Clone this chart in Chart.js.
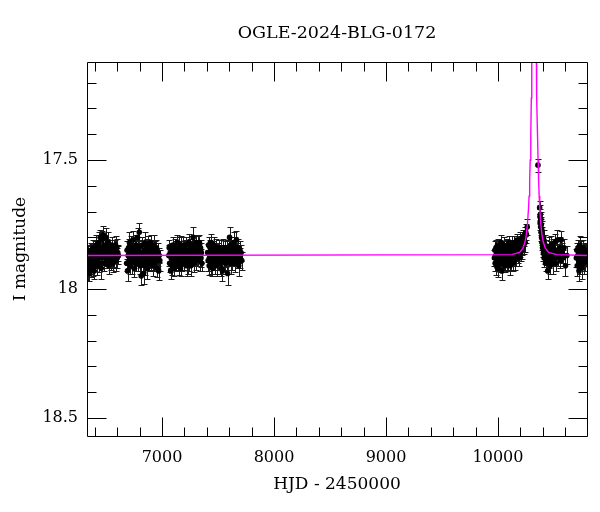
<!DOCTYPE html>
<html><head><meta charset="utf-8">
<script src="https://cdn.jsdelivr.net/npm/chart.js@4/dist/chart.umd.min.js"></script>
<style>html,body{margin:0;padding:0;background:#fff}</style>
</head><body>
<canvas id="c" width="600" height="512"></canvas>
<script>
const chartTitle = 'OGLE-2024-BLG-0172';
const xTitle = 'HJD - 2450000';
const yTitle = 'I magnitude';

const xRange = [6330, 10795];
const yRange = [17.12, 18.57];
const xMajorTicks = [7000, 8000, 9000, 10000];
const xMinorTicks = [6400, 6600, 6800, 7200, 7400, 7600, 7800, 8200, 8400, 8600, 8800, 9200, 9400, 9600, 9800, 10200, 10400, 10600];
const yMajorTicks = [17.5, 18, 18.5];
const yMinorTicks = [17.2, 17.3, 17.4, 17.6, 17.7, 17.8, 17.9, 18.1, 18.2, 18.3, 18.4];

// season 1
const s1Hjd = [6333,6336,6341,6344,6349,6352,6357,6361,6364,6369, 6372,6377,6381,6384,6389,6393,6396,6401,6404,6409, 6413,6416,6421,6425,6428,6433,6436,6441,6445,6448, 6453,6457,6460,6465,6468,6473,6477,6480,6485,6489, 6492,6497,6500,6505,6509,6512,6517,6521,6524,6529, 6532,6537,6541,6544,6549,6553,6556,6561,6564,6569, 6573,6576,6581,6585,6588,6593,6597,6600,6605,6611];
const s1Mag = [17.89,17.93,17.86,17.91,17.88,17.94,17.87,17.90,17.85,17.92, 17.88,17.86,17.91,17.84,17.89,17.93,17.87,17.85,17.90,17.88, 17.83,17.87,17.91,17.85,17.89,17.82,17.86,17.90,17.84,17.80, 17.87,17.92,17.85,17.81,17.88,17.84,17.79,17.86,17.90,17.83, 17.87,17.80,17.85,17.89,17.84,17.88,17.82,17.86,17.91,17.85, 17.87,17.84,17.89,17.86,17.83,17.88,17.85,17.90,17.86,17.84, 17.88,17.85,17.87,17.83,17.89,17.86,17.84,17.88,17.86,17.87];
const s1Err = [0.035,0.04,0.03,0.035,0.04,0.03,0.035,0.04,0.03,0.035, 0.03,0.035,0.04,0.03,0.035,0.03,0.04,0.035,0.03,0.04, 0.04,0.03,0.035,0.035,0.03,0.04,0.03,0.035,0.04,0.03, 0.035,0.04,0.03,0.035,0.04,0.03,0.035,0.04,0.03,0.035, 0.03,0.035,0.04,0.03,0.035,0.03,0.04,0.035,0.03,0.04, 0.04,0.03,0.035,0.035,0.03,0.04,0.03,0.035,0.04,0.03, 0.035,0.04,0.03,0.035,0.04,0.03,0.035,0.04,0.03,0.035];
// season 2
const s2Hjd = [6684,6688,6692,6697,6701,6705,6709,6713,6718,6722, 6726,6730,6734,6739,6743,6747,6751,6755,6760,6764, 6768,6772,6776,6781,6785,6789,6793,6797,6802,6806, 6810,6814,6818,6823,6827,6831,6835,6839,6844,6848, 6852,6856,6860,6865,6869,6873,6877,6881,6886,6890, 6894,6898,6902,6907,6911,6915,6919,6923,6928,6932, 6936,6940,6945,6950,6955,6960,6965,6970,6975,6980];
const s2Mag = [17.90,17.85,17.93,17.87,17.84,17.89,17.82,17.88,17.91,17.86, 17.83,17.90,17.87,17.81,17.85,17.89,17.92,17.84,17.88,17.86, 17.83,17.90,17.87,17.80,17.85,17.89,17.84,17.78,17.86,17.91, 17.88,17.95,17.86,17.83,17.90,17.87,17.94,17.85,17.88,17.82, 17.91,17.86,17.89,17.84,17.92,17.87,17.83,17.88,17.90,17.85, 17.86,17.82,17.89,17.87,17.84,17.91,17.86,17.88,17.83,17.90, 17.87,17.85,17.89,17.84,17.92,17.88,17.86,17.93,17.87,17.89];
const s2Err = [0.03,0.035,0.04,0.03,0.035,0.03,0.04,0.035,0.03,0.04, 0.035,0.04,0.03,0.035,0.04,0.03,0.035,0.04,0.03,0.035, 0.04,0.03,0.035,0.035,0.03,0.04,0.03,0.035,0.04,0.03, 0.03,0.035,0.04,0.03,0.035,0.03,0.04,0.035,0.03,0.04, 0.035,0.04,0.03,0.035,0.04,0.03,0.035,0.04,0.03,0.035, 0.04,0.03,0.035,0.035,0.03,0.04,0.03,0.035,0.04,0.03, 0.03,0.035,0.04,0.03,0.035,0.03,0.04,0.035,0.03,0.04];
// season 3
const s3Hjd = [7060,7064,7068,7073,7077,7081,7085,7089,7094,7098, 7102,7106,7110,7115,7119,7123,7127,7131,7136,7140, 7144,7148,7152,7157,7161,7165,7169,7173,7178,7182, 7186,7190,7194,7199,7203,7207,7211,7215,7220,7224, 7228,7232,7236,7241,7245,7249,7253,7257,7262,7266, 7270,7274,7278,7283,7287,7291,7295,7299,7304,7309, 7314,7319,7324,7329,7334,7339,7344,7348,7352,7356];
const s3Mag = [17.87,17.84,17.90,17.86,17.93,17.88,17.85,17.91,17.87,17.83, 17.89,17.86,17.92,17.84,17.88,17.90,17.85,17.87,17.82,17.89, 17.86,17.91,17.84,17.88,17.85,17.92,17.87,17.83,17.90,17.86, 17.84,17.88,17.85,17.89,17.84,17.87,17.83,17.86,17.91,17.88, 17.85,17.90,17.86,17.82,17.89,17.87,17.84,17.91,17.86,17.83, 17.88,17.85,17.80,17.87,17.90,17.84,17.86,17.89,17.82,17.87, 17.85,17.88,17.83,17.86,17.82,17.89,17.84,17.88,17.86,17.90];
const s3Err = [0.04,0.03,0.035,0.035,0.03,0.04,0.03,0.035,0.04,0.03, 0.035,0.04,0.03,0.035,0.04,0.03,0.035,0.04,0.03,0.035, 0.03,0.035,0.04,0.03,0.035,0.03,0.04,0.035,0.03,0.04, 0.04,0.03,0.035,0.035,0.03,0.04,0.03,0.035,0.04,0.03, 0.035,0.04,0.03,0.035,0.04,0.03,0.035,0.04,0.03,0.035, 0.03,0.035,0.04,0.03,0.035,0.03,0.04,0.035,0.03,0.04, 0.04,0.03,0.035,0.035,0.03,0.04,0.03,0.035,0.04,0.03];
// season 4
const s4Hjd = [7408,7412,7416,7421,7425,7429,7433,7438,7442,7446, 7450,7455,7459,7463,7467,7472,7476,7480,7484,7489, 7493,7497,7501,7506,7510,7514,7518,7523,7527,7531, 7535,7540,7544,7548,7552,7557,7561,7565,7569,7574, 7578,7582,7586,7591,7595,7599,7603,7608,7612,7616, 7620,7625,7629,7633,7637,7642,7646,7650,7655,7660, 7665,7670,7675,7680,7685,7690,7695,7700,7706,7712];
const s4Mag = [17.86,17.89,17.83,17.91,17.87,17.84,17.82,17.90,17.86,17.88, 17.92,17.85,17.87,17.83,17.89,17.86,17.90,17.84,17.88,17.91, 17.86,17.85,17.89,17.87,17.84,17.90,17.86,17.88,17.85,17.92, 17.87,17.93,17.86,17.84,17.89,17.87,17.85,17.90,17.86,17.88, 17.84,17.89,17.94,17.87,17.85,17.88,17.80,17.86,17.83,17.90, 17.87,17.84,17.89,17.85,17.88,17.82,17.86,17.90,17.84,17.87, 17.81,17.86,17.89,17.84,17.91,17.87,17.85,17.88,17.86,17.89];
const s4Err = [0.035,0.04,0.03,0.035,0.04,0.03,0.035,0.04,0.03,0.035, 0.03,0.035,0.04,0.03,0.035,0.03,0.04,0.035,0.03,0.04, 0.04,0.03,0.035,0.035,0.03,0.04,0.03,0.035,0.04,0.03, 0.035,0.04,0.03,0.035,0.04,0.03,0.035,0.04,0.03,0.035, 0.03,0.035,0.045,0.03,0.035,0.03,0.04,0.035,0.03,0.04, 0.04,0.03,0.035,0.035,0.03,0.04,0.03,0.035,0.04,0.03, 0.035,0.04,0.03,0.035,0.04,0.03,0.035,0.04,0.03,0.035];
// season 5 (before the peak)
const s5Hjd = [9968,9972,9975,9979,9982,9986,9989,9993,9996,10000, 10003,10007,10010,10014,10017,10021,10024,10028,10031,10035, 10038,10042,10045,10049,10052,10056,10059,10063,10066,10070, 10073,10077,10080,10084,10087,10091,10094,10098,10101,10105, 10108,10112,10115,10119,10122,10126,10129,10133,10136,10140, 10143,10147,10150,10154,10157,10161,10164,10168,10171,10175, 10178,10182,10185,10189,10192,10196,10199,10203,10207,10211, 10215,10219,10223,10228,10233,10238,10243,10248,10254,10261];
const s5Mag = [17.88,17.85,17.90,17.87,17.84,17.91,17.86,17.89,17.83,17.88, 17.92,17.86,17.84,17.90,17.87,17.85,17.89,17.82,17.88,17.93, 17.86,17.84,17.90,17.87,17.83,17.89,17.86,17.91,17.85,17.88, 17.84,17.87,17.90,17.83,17.86,17.89,17.85,17.88,17.82,17.87, 17.91,17.86,17.84,17.89,17.85,17.88,17.83,17.87,17.90,17.85, 17.86,17.82,17.89,17.84,17.87,17.85,17.88,17.81,17.86,17.84, 17.87,17.83,17.86,17.82,17.88,17.84,17.81,17.86,17.83,17.85, 17.82,17.84,17.80,17.83,17.81,17.79,17.82,17.78,17.79,17.76];
const s5Err = [0.03,0.035,0.03,0.025,0.03,0.035,0.03,0.03,0.025,0.035, 0.035,0.03,0.03,0.035,0.025,0.03,0.035,0.03,0.03,0.035, 0.03,0.025,0.035,0.03,0.03,0.035,0.03,0.025,0.03,0.035, 0.03,0.035,0.03,0.025,0.03,0.035,0.03,0.03,0.025,0.035, 0.035,0.03,0.03,0.035,0.025,0.03,0.035,0.03,0.03,0.035, 0.03,0.025,0.035,0.03,0.03,0.035,0.03,0.025,0.03,0.035, 0.03,0.035,0.03,0.025,0.03,0.035,0.03,0.03,0.025,0.035, 0.035,0.03,0.03,0.035,0.025,0.03,0.035,0.03,0.03,0.03];
// after the peak
const s6Hjd = [10357,10372,10375,10377,10379,10381,10383,10385,10387,10389, 10391,10393,10395,10398,10400,10403,10406,10409,10412,10415, 10418,10421,10425,10428,10432,10436,10440,10444,10448,10452, 10457,10461,10466,10470,10475,10480,10485,10490,10495,10500, 10506,10512,10518,10524,10530,10537,10544,10551,10558,10565, 10572,10580,10590,10603,10615];
const s6Mag = [17.52,17.685,17.72,17.74,17.71,17.76,17.73,17.78,17.75,17.80, 17.77,17.82,17.79,17.84,17.80,17.83,17.86,17.81,17.88,17.84, 17.87,17.83,17.90,17.86,17.84,17.89,17.86,17.93,17.87,17.84, 17.89,17.85,17.91,17.87,17.83,17.88,17.86,17.90,17.84,17.88, 17.82,17.87,17.90,17.85,17.81,17.88,17.86,17.84,17.89,17.81, 17.86,17.88,17.84,17.91,17.87];
const s6Err = [0.025,0.025,0.03,0.03,0.035,0.03,0.03,0.035,0.03,0.03, 0.035,0.03,0.03,0.035,0.03,0.035,0.03,0.04,0.035,0.03, 0.035,0.04,0.03,0.035,0.03,0.04,0.035,0.03,0.035,0.04, 0.03,0.035,0.03,0.04,0.035,0.03,0.035,0.04,0.035,0.03, 0.035,0.04,0.03,0.035,0.04,0.03,0.035,0.04,0.03,0.035, 0.04,0.03,0.035,0.04,0.035];
// last season
const s7Hjd = [10700,10704,10708,10712,10716,10720,10724,10728,10732,10736, 10740,10744,10748,10752,10756,10760,10764,10768,10773,10778, 10784,10790];
const s7Mag = [17.88,17.85,17.91,17.87,17.84,17.89,17.93,17.86,17.83,17.90, 17.87,17.85,17.92,17.86,17.88,17.84,17.90,17.87,17.85,17.89, 17.86,17.88];
const s7Err = [0.035,0.03,0.04,0.035,0.03,0.035,0.04,0.03,0.035,0.04, 0.03,0.035,0.04,0.03,0.035,0.03,0.04,0.035,0.03,0.04, 0.035,0.03];

// microlensing model curve
const modelHjd = [6330,10123,10193,10223,10243,10253,10263,10273,10278,10283,10288,10293,10298,10300.5,10303,10305.5,10308,10313,10318,10323,10328,10333,10338,10340.5,10343,10345.5,10348,10353,10358,10363,10368,10373,10383,10393,10403,10423,10453,10523,10795];
const modelMag = [17.87,17.867,17.858,17.842,17.815,17.79,17.75,17.686,17.64,17.58,17.50,17.40,17.26,17.17,17.07,16.95,16.81,16.41,15.73,14.62,15.73,16.41,16.81,16.95,17.07,17.17,17.26,17.40,17.50,17.58,17.64,17.686,17.75,17.79,17.815,17.842,17.858,17.867,17.87];

const seasons = [[s1Hjd,s1Mag,s1Err],[s2Hjd,s2Mag,s2Err],[s3Hjd,s3Mag,s3Err],[s4Hjd,s4Mag,s4Err],[s5Hjd,s5Mag,s5Err],[s6Hjd,s6Mag,s6Err],[s7Hjd,s7Mag,s7Err]];
const obs = [];
seasons.forEach(([h, m, e]) => h.forEach((t, i) => obs.push({x: t, y: m[i], e: e[i]})));
const model = modelHjd.map((t, i) => ({x: t, y: modelMag[i]}));

const errorBars = {
  id: 'errorBars',
  beforeDatasetsDraw(chart) {
    const ctx = chart.ctx, xs = chart.scales.x, ys = chart.scales.y, a = chart.chartArea;
    ctx.save();
    ctx.beginPath(); ctx.rect(a.left, a.top, a.right - a.left, a.bottom - a.top); ctx.clip();
    ctx.strokeStyle = '#1a1a1a'; ctx.lineWidth = 1;
    ctx.beginPath();
    chart.data.datasets[1].data.forEach(p => {
      const x = Math.round(xs.getPixelForValue(p.x)) + 0.5;
      const y1 = Math.round(ys.getPixelForValue(p.y - p.e)) + 0.5;
      const y2 = Math.round(ys.getPixelForValue(p.y + p.e)) + 0.5;
      ctx.moveTo(x, y1); ctx.lineTo(x, y2);
      ctx.moveTo(x - 3, y1); ctx.lineTo(x + 3, y1);
      ctx.moveTo(x - 3, y2); ctx.lineTo(x + 3, y2);
    });
    ctx.stroke();
    ctx.restore();
  }
};

const frameTicks = {
  id: 'frameTicks',
  afterDraw(chart) {
    const ctx = chart.ctx, xs = chart.scales.x, ys = chart.scales.y, a = chart.chartArea;
    const L = Math.round(a.left) + 0.5, R = Math.round(a.right) + 0.5, T = Math.round(a.top) + 0.5, B = Math.round(a.bottom) + 0.5;
    ctx.save();
    ctx.strokeStyle = '#000'; ctx.lineWidth = 1;
    ctx.beginPath();
    ctx.rect(L, T, R - L, B - T);
    const vx = (v, len) => { const x = Math.round(xs.getPixelForValue(v)) + 0.5; ctx.moveTo(x, T); ctx.lineTo(x, T + len); ctx.moveTo(x, B); ctx.lineTo(x, B - len); };
    const vy = (v, len) => { const y = Math.round(ys.getPixelForValue(v)) + 0.5; ctx.moveTo(L, y); ctx.lineTo(L + len, y); ctx.moveTo(R, y); ctx.lineTo(R - len, y); };
    xMajorTicks.forEach(v => vx(v, 19)); xMinorTicks.forEach(v => vx(v, 9));
    yMajorTicks.forEach(v => vy(v, 19)); yMinorTicks.forEach(v => vy(v, 9));
    ctx.stroke();
    ctx.restore();
  }
};

const serif = 'DejaVu Serif';
new Chart(document.getElementById('c'), {
  type: 'scatter',
  data: {
    datasets: [
      {data: model, showLine: true, borderColor: '#ff00ff', borderWidth: 1.4, pointRadius: 0, tension: 0},
      {data: obs, showLine: false, pointRadius: 2.8, pointBackgroundColor: '#000', pointBorderWidth: 0, backgroundColor: '#000'}
    ]
  },
  options: {
    responsive: false, animation: false, devicePixelRatio: 1,
    events: [],
    layout: {padding: {left: 0, right: 13, top: 0, bottom: 0}},
    plugins: {
      legend: {display: false}, tooltip: {enabled: false},
      title: {display: true, fullSize: false, text: chartTitle, color: '#000', font: {family: serif, size: 17.5, weight: 'normal'}, padding: {top: 22.5, bottom: 18.5}}
    },
    scales: {
      x: {
        type: 'linear', min: xRange[0], max: xRange[1],
        grid: {display: false, drawTicks: false}, border: {display: false},
        afterBuildTicks: s => { s.ticks = xMajorTicks.map(v => ({value: v})); },
        afterFit: s => { s.height = 76; s.paddingLeft = 0; s.paddingRight = 0; },
        ticks: {color: '#000', font: {family: serif, size: 16}, padding: 12, maxRotation: 0, autoSkip: false, callback: v => String(v)},
        title: {display: true, text: xTitle, color: '#000', font: {family: serif, size: 17}, padding: {top: 0, bottom: 17}}
      },
      y: {
        type: 'linear', reverse: true, min: yRange[0], max: yRange[1],
        grid: {display: false, drawTicks: false}, border: {display: false},
        afterBuildTicks: s => { s.ticks = yMajorTicks.map(v => ({value: v})); },
        afterFit: s => { s.width = 87; s.paddingTop = 0; s.paddingBottom = 0; },
        ticks: {color: '#000', font: {family: serif, size: 16}, padding: 9, autoSkip: false, callback: v => String(v)},
        title: {display: true, text: yTitle, color: '#000', font: {family: serif, size: 17}, padding: {top: 10, bottom: 0}}
      }
    }
  },
  plugins: [errorBars, frameTicks]
});
</script>
</body></html>
